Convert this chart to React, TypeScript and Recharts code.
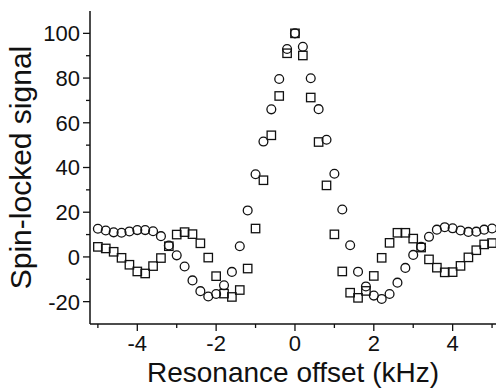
import { Scatter, ScatterChart, XAxis, YAxis } from "recharts";

const offsets = [
  -5.0, -4.8, -4.6, -4.4, -4.2, -4.0, -3.8, -3.6, -3.4, -3.2, -3.0, -2.8, -2.6, -2.4, -2.2, -2.0, -1.8,
  -1.6, -1.4, -1.2, -1.0, -0.8, -0.6, -0.4, -0.2, 0, 0.2, 0.4, 0.6, 0.8, 1.0, 1.2, 1.4, 1.6, 1.8, 2.0,
  2.2, 2.4, 2.6, 2.8, 3.0, 3.2, 3.4, 3.6, 3.8, 4.0, 4.2, 4.4, 4.6, 4.8, 5.0,
];

const circles = [
  12.6, 11.8, 11.0, 10.8, 11.4, 12.0, 12.0, 11.5, 9.3, 5.1, 0.7, -4.3, -10.5, -15.3, -17.7, -16.6, -12.7,
  -6.7, 4.8, 20.8, 37.0, 51.6, 66.0, 79.6, 93.0, 100, 94.0, 79.9, 66.1, 52.4, 37.2, 21.2, 5.2, -6.6, -13.2,
  -17.3, -18.8, -16.6, -11.5, -4.9, 0.9, 4.5, 9.0, 12.2, 13.3, 12.8, 11.8, 11.2, 11.3, 12.2, 12.7,
];

const squares = [
  4.5, 3.8, 2.3, -0.4, -3.5, -6.5, -7.4, -4.1, -0.5, 4.8, 10.0, 11.1, 10.2, 6.1, -0.3, -8.6, -16.4,
  -17.9, -14.8, -5.2, 12.7, 34.3, 54.4, 72.0, 91.1, 100, 90.1, 71.3, 51.4, 32.0, 10.1, -6.5, -16.0, -18.3,
  -15.2, -8.5, -0.4, 6.3, 10.8, 10.8, 8.2, 4.2, -1.1, -4.8, -6.9, -6.8, -4.0, -0.2, 3.0, 5.6, 6.2,
];

const xTicks = [-5, -4, -3, -2, -1, 0, 1, 2, 3, 4, 5];
const yTicks = [-20, -10, 0, 10, 20, 30, 40, 50, 60, 70, 80, 90, 100];
const yTicksRight = [-20, 0, 20, 40, 60, 80, 100];

const circleData = offsets.map((x, i) => ({ x, y: circles[i] }));
const squareData = offsets.map((x, i) => ({ x, y: squares[i] }));

const font = "'Liberation Sans', Arial, sans-serif";
const ink = "#111";

function BottomTick({ x, y, payload }: any) {
  const major = payload.value % 2 === 0;
  return (
    <g>
      <line x1={x} y1={y} x2={x} y2={y + (major ? 7 : 4)} stroke={ink} strokeWidth={1.3} />
      {major && (
        <text x={x} y={y + 27} textAnchor="middle" fontSize={22} fontFamily={font} fill={ink}>
          {payload.value}
        </text>
      )}
    </g>
  );
}

function TopTick({ x, y, payload }: any) {
  const major = payload.value % 2 === 0;
  return <line x1={x} y1={y} x2={x} y2={y + (major ? 6 : 3)} stroke={ink} strokeWidth={1.3} />;
}

function LeftTick({ x, y, payload }: any) {
  const major = payload.value % 20 === 0;
  return (
    <g>
      <line x1={x - (major ? 7 : 4)} y1={y} x2={x} y2={y} stroke={ink} strokeWidth={1.3} />
      {major && (
        <text x={x - 10} y={y} dy="0.36em" textAnchor="end" fontSize={22} fontFamily={font} fill={ink}>
          {payload.value}
        </text>
      )}
    </g>
  );
}

function RightTick({ x, y }: any) {
  return <line x1={x - 6} y1={y} x2={x} y2={y} stroke={ink} strokeWidth={1.3} />;
}

const circleShape = (p: any) => <circle cx={p.cx} cy={p.cy} r={4.4} fill="none" stroke={ink} strokeWidth={1.3} />;
const squareShape = (p: any) => (
  <rect x={p.cx - 4.2} y={p.cy - 4.2} width={8.4} height={8.4} fill="none" stroke={ink} strokeWidth={1.3} />
);

export default function App() {
  return (
    <div style={{ position: "absolute", left: 0, top: 0, background: "#fff" }}>
      <ScatterChart width={496} height={388} margin={{ top: 11, right: 0, bottom: 0, left: 0 }}>
        <XAxis
          type="number"
          dataKey="x"
          domain={[-5.2, 5.1]}
          allowDataOverflow
          ticks={xTicks}
          interval={0}
          height={64}
          tickSize={0}
          tickMargin={0}
          tickLine={false}
          tick={<BottomTick />}
          axisLine={{ stroke: ink, strokeWidth: 1.5 }}
          label={{
            value: "Resonance offset (kHz)",
            position: "insideBottom",
            offset: 6,
            style: { fontSize: 28, fontFamily: font, fill: ink },
          }}
        />
        <XAxis
          xAxisId="top"
          orientation="top"
          type="number"
          dataKey="x"
          domain={[-5.2, 5.1]}
          allowDataOverflow
          ticks={xTicks}
          interval={0}
          height={0}
          tickSize={0}
          tickMargin={0}
          tickLine={false}
          tick={<TopTick />}
          axisLine={{ stroke: ink, strokeWidth: 1.5 }}
        />
        <YAxis
          type="number"
          dataKey="y"
          domain={[-30, 110]}
          allowDataOverflow
          ticks={yTicks}
          interval={0}
          width={90}
          tickSize={0}
          tickMargin={0}
          tickLine={false}
          tick={<LeftTick />}
          axisLine={{ stroke: ink, strokeWidth: 1.5 }}
          label={{
            value: "Spin-locked signal",
            angle: -90,
            position: "insideLeft",
            offset: 20,
            style: { fontSize: 30, fontFamily: font, fill: ink, textAnchor: "middle" },
          }}
        />
        <YAxis
          yAxisId="right"
          orientation="right"
          type="number"
          dataKey="y"
          domain={[-30, 110]}
          allowDataOverflow
          ticks={yTicksRight}
          interval={0}
          width={0}
          tickSize={0}
          tickMargin={0}
          tickLine={false}
          tick={<RightTick />}
          axisLine={{ stroke: ink, strokeWidth: 1.5 }}
        />
        <Scatter data={circleData} shape={circleShape} isAnimationActive={false} />
        <Scatter data={squareData} shape={squareShape} isAnimationActive={false} />
      </ScatterChart>
    </div>
  );
}
